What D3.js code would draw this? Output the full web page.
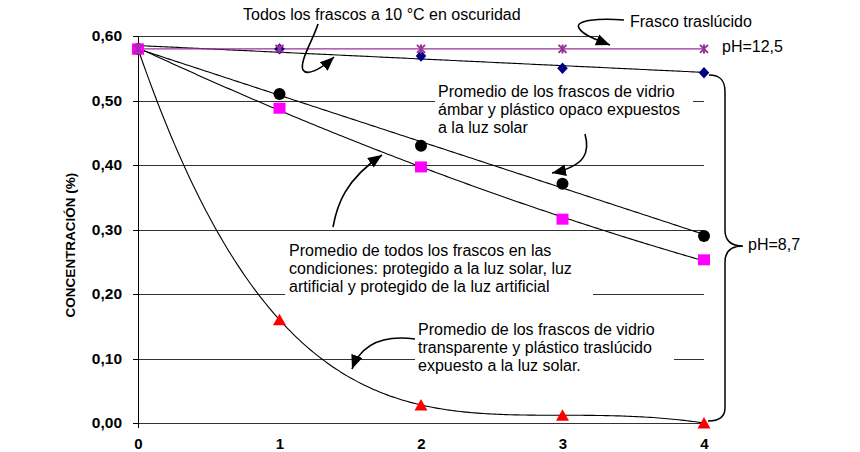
<!DOCTYPE html>
<html><head><meta charset="utf-8">
<script src="https://cdn.jsdelivr.net/npm/d3@7"></script>
<style>body{margin:0;background:#fff}svg{display:block}text{font-family:"Liberation Sans",Arial,sans-serif}</style>
</head><body><svg id="c" width="860" height="452"></svg>
<script>
// ---- data ----
const dias = [0, 1, 2, 3, 4];
const xTickLabels = ["0", "1", "2", "3", "4"];
const yTicks = [0, 0.1, 0.2, 0.3, 0.4, 0.5, 0.6];
const translucido = [0.58, 0.58, 0.58, 0.58, 0.58];          // pH=12,5
const oscuridad = [0.58, 0.58, 0.569, 0.55, 0.543];           // 10 °C oscuridad
const ambarOpaco = [0.58, 0.51, 0.43, 0.371, 0.29];           // ámbar / opaco al sol
const protegidos = [0.58, 0.488, 0.397, 0.316, 0.253];        // protegidos
const transparente = [0.58, 0.16, 0.028, 0.012, 0.0];         // transparente al sol
const yTitle = "CONCENTRACIÓN (%)";

const svg = d3.select("#c");
const x = d3.scaleLinear().domain([0, 4]).range([138, 704]);
const y = d3.scaleLinear().domain([0, 0.6]).range([423, 36]);
const fmt = d3.formatLocale({decimal: ",", thousands: ".", grouping: [3], currency: ["", ""]}).format(".2f");

// gridlines
const grid = svg.append("g").attr("transform", `translate(${x(0)},0)`)
  .call(d3.axisLeft(y).tickValues(yTicks).tickSize(-(x(4) - x(0))).tickFormat(""));
grid.select(".domain").remove();
grid.selectAll(".tick line").attr("stroke", "#333").attr("shape-rendering", "crispEdges");

// y axis with labels
const ya = svg.append("g").attr("transform", `translate(${x(0)},0)`)
  .call(d3.axisLeft(y).tickValues(yTicks).tickSize(5).tickSizeOuter(0).tickPadding(11).tickFormat(fmt));
ya.select(".domain").remove();
ya.selectAll(".tick line").attr("stroke", "#000").attr("shape-rendering", "crispEdges");
ya.selectAll(".tick text").attr("font-size", 15.5).attr("font-weight", "bold").attr("fill", "#000")
  .attr("font-family", '"Liberation Sans",Arial,sans-serif');
svg.append("line").attr("x1", x(0)).attr("x2", x(0)).attr("y1", y(0.6)).attr("y2", y(0) + 5)
  .attr("stroke", "#000").attr("shape-rendering", "crispEdges");

// x labels
const xa = svg.append("g").attr("transform", `translate(0,${y(0)})`)
  .call(d3.axisBottom(x).tickValues(dias).tickSize(0).tickPadding(15).tickFormat((d, i) => xTickLabels[i]));
xa.select(".domain").remove();
xa.selectAll(".tick text").attr("font-size", 15).attr("font-weight", "bold").attr("fill", "#000")
  .attr("font-family", '"Liberation Sans",Arial,sans-serif');

// y title
svg.append("text").attr("transform", "translate(75,245) rotate(-90)").attr("text-anchor", "middle")
  .attr("font-size", 13.5).attr("font-weight", "bold").text(yTitle);

// white text boxes covering gridlines
const boxes = [[435, 80, 258, 57], [285, 238, 308, 60], [415, 320, 259, 57], [598, 6, 202, 34]];
svg.selectAll("rect.box").data(boxes).enter().append("rect")
  .attr("x", d => d[0]).attr("y", d => d[1]).attr("width", d => d[2]).attr("height", d => d[3]).attr("fill", "#fff");

// ---- trend fits ----
function polyfit(xs, ys, deg) {
  const n = deg + 1, A = [], b = [];
  for (let i = 0; i < n; i++) {
    A.push([]);
    for (let j = 0; j < n; j++) A[i].push(d3.sum(xs, v => Math.pow(v, i + j)));
    b.push(d3.sum(xs.map((v, k) => ys[k] * Math.pow(v, i))));
  }
  for (let c = 0; c < n; c++) {
    let p = c;
    for (let r = c + 1; r < n; r++) if (Math.abs(A[r][c]) > Math.abs(A[p][c])) p = r;
    [A[c], A[p]] = [A[p], A[c]]; [b[c], b[p]] = [b[p], b[c]];
    for (let r = c + 1; r < n; r++) {
      const f = A[r][c] / A[c][c];
      for (let k = c; k < n; k++) A[r][k] -= f * A[c][k];
      b[r] -= f * b[c];
    }
  }
  const co = new Array(n).fill(0);
  for (let r = n - 1; r >= 0; r--) {
    let s = b[r];
    for (let k = r + 1; k < n; k++) s -= A[r][k] * co[k];
    co[r] = s / A[r][r];
  }
  return t => co.reduce((s, c, i) => s + c * Math.pow(t, i), 0);
}
const samples = d3.range(0, 4.0001, 0.02);
const line = d3.line().x(d => x(d[0])).y(d => y(d[1]));
function trend(vals, deg) {
  const f = polyfit(dias, vals, deg);
  svg.append("path").attr("d", line(samples.map(t => [t, f(t)]))).attr("fill", "none")
    .attr("stroke", "#000").attr("stroke-width", 1.1);
}
trend(oscuridad, 1);
trend(ambarOpaco, 1);
trend(protegidos, 2);
trend(transparente, 4);
// translucent series line
svg.append("path").attr("d", line(dias.map((d, i) => [d, translucido[i]]))).attr("fill", "none")
  .attr("stroke", "#993399").attr("stroke-width", 1.4);

// ---- markers ----
function pts(vals) { return dias.map((d, i) => [d, vals[i]]); }
svg.selectAll("path.dia").data(pts(oscuridad)).enter().append("path")
  .attr("d", "M0,-5.7L5.3,0L0,5.7L-5.3,0Z").attr("fill", "#000080")
  .attr("transform", d => `translate(${x(d[0])},${y(d[1])})`);
svg.selectAll("circle.amb").data(pts(ambarOpaco)).enter().append("circle")
  .attr("r", 6).attr("fill", "#000").attr("cx", d => x(d[0])).attr("cy", d => y(d[1]));
svg.selectAll("path.tri").data(pts(transparente)).enter().append("path")
  .attr("d", "M0,-6L6.5,5.5L-6.5,5.5Z").attr("fill", "#ff0000")
  .attr("transform", d => `translate(${x(d[0])},${y(d[1])})`);
svg.selectAll("rect.sq").data(pts(protegidos)).enter().append("rect")
  .attr("width", 12).attr("height", 11).attr("fill", "#ff00ff")
  .attr("x", d => x(d[0]) - 6).attr("y", d => y(d[1]) - 5.5);
svg.selectAll("path.ast").data(pts(translucido)).enter().append("path")
  .attr("d", "M-4,-4L4,4M-4,4L4,-4M0,-4.5L0,4.5").attr("stroke", "#993399").attr("stroke-width", 2)
  .attr("fill", "none").attr("transform", d => `translate(${x(d[0])},${y(d[1])})`);

// ---- annotations ----
const defs = svg.append("defs");
defs.append("marker").attr("id", "ah").attr("viewBox", "0 0 12 10").attr("refX", 12).attr("refY", 5)
  .attr("markerWidth", 14).attr("markerHeight", 12).attr("markerUnits", "userSpaceOnUse").attr("orient", "auto")
  .append("path").attr("d", "M0,0L12,5L0,10Z").attr("fill", "#000");
const arrows = [
  "M318,24 C313,40 299,62 303,70 C307,76 320,70 334,57",
  "M624,20 C600,18 574,20 579,28 C583,35 595,39 610,45",
  "M585,134 C590,152 586,166 552,173",
  "M333,227 C337,205 345,180 382,155",
  "M415,339 C385,335 362,342 352,369"
];
svg.selectAll("path.arr").data(arrows).enter().append("path").attr("d", d => d)
  .attr("fill", "none").attr("stroke", "#000").attr("stroke-width", 1.6).attr("marker-end", "url(#ah)");
// brace
svg.append("path").attr("d", "M709,75 C720,75 725,80 725,92 L725,230 C725,241 731,246 743,246 C731,246 725,251 725,262 L725,408 C725,417 719,421 708,421")
  .attr("fill", "none").attr("stroke", "#000").attr("stroke-width", 1.5);

const notes = [
  {x: 243, y: 20, lines: ["Todos los frascos a 10 °C en oscuridad"]},
  {x: 630, y: 27, lines: ["Frasco traslúcido"]},
  {x: 722, y: 52, lines: ["pH=12,5"]},
  {x: 748, y: 250, lines: ["pH=8,7"]},
  {x: 438, y: 97, lines: ["Promedio de los frascos de vidrio", "ámbar y plástico opaco expuestos", "a la luz solar"]},
  {x: 289, y: 256, lines: ["Promedio de todos los frascos en las", "condiciones: protegido a la luz solar, luz", "artificial y protegido de la luz artificial"]},
  {x: 418, y: 335, lines: ["Promedio de los frascos de vidrio", "transparente y plástico traslúcido", "expuesto a la luz solar."]}
];
notes.forEach(n => {
  const t = svg.append("text").attr("x", n.x).attr("y", n.y).attr("font-size", 16).attr("fill", "#000");
  n.lines.forEach((l, i) => t.append("tspan").attr("x", n.x).attr("dy", i ? 18 : 0).text(l));
});
</script></body></html>
